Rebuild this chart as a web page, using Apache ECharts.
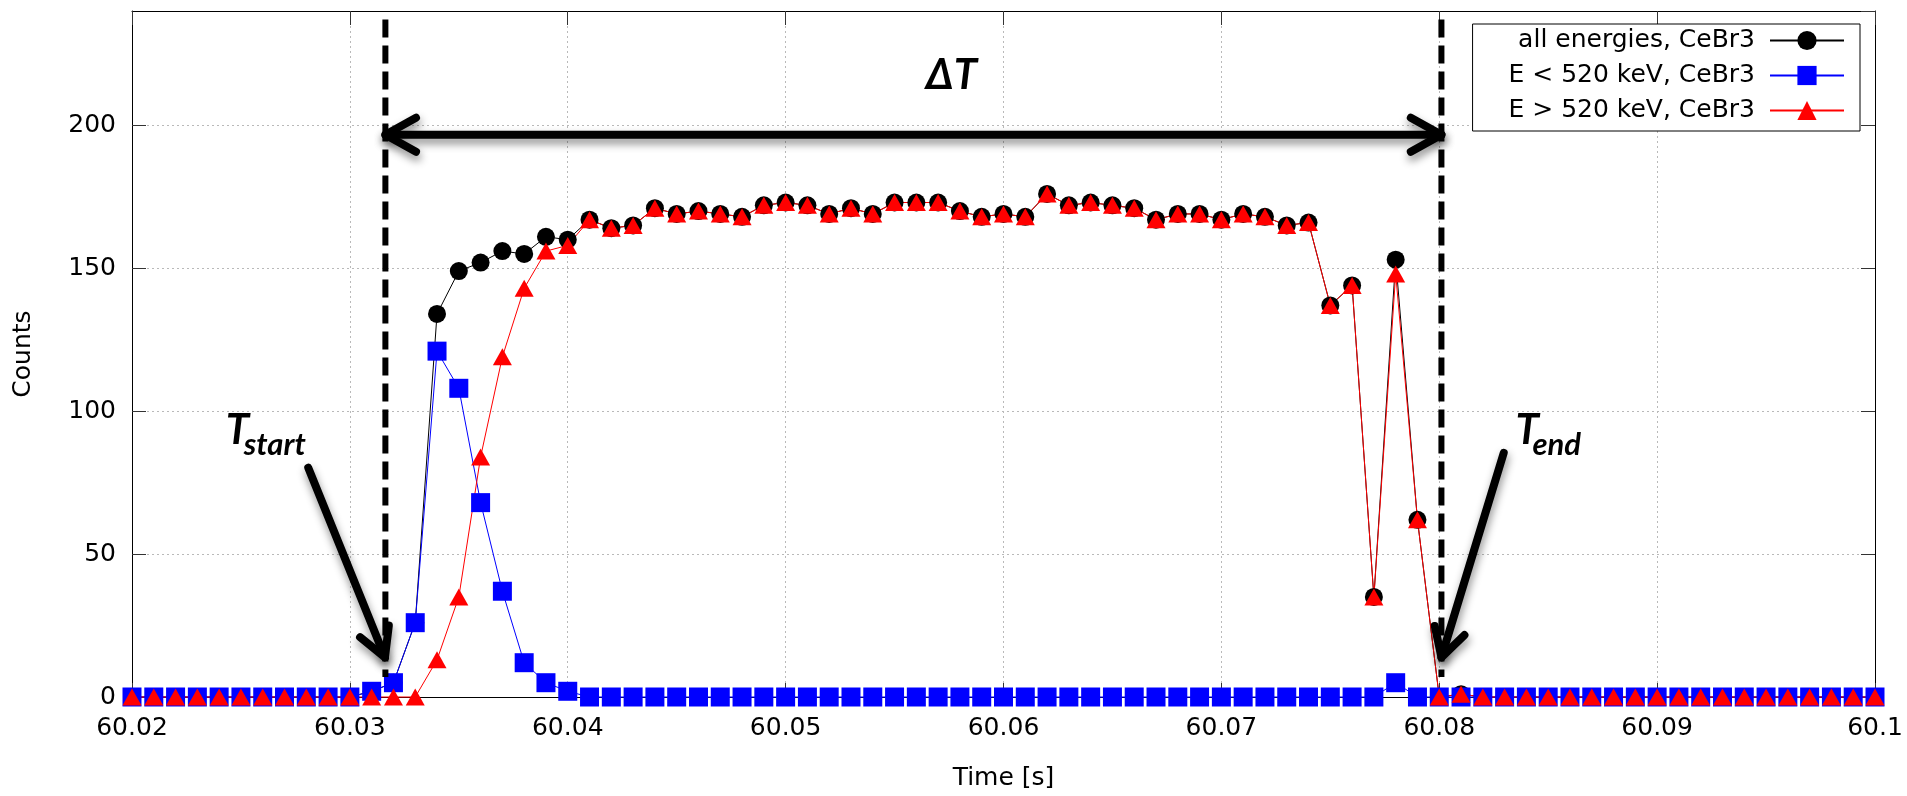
<!DOCTYPE html>
<html>
<head>
<meta charset="utf-8">
<title>CeBr3 counts vs time</title>
<script src="https://cdn.jsdelivr.net/npm/echarts@6/dist/echarts.min.js"></script>
<style>
  html, body { margin: 0; padding: 0; background: #ffffff; }
  #chart { width: 1907px; height: 796px; }
</style>
</head>
<body>
<div id="chart"></div>
<script>
// Time bins [s], 1 ms wide
const times = [
  60.020, 60.021, 60.022, 60.023, 60.024, 60.025, 60.026, 60.027, 60.028, 60.029,
  60.030, 60.031, 60.032, 60.033, 60.034, 60.035, 60.036, 60.037, 60.038, 60.039,
  60.040, 60.041, 60.042, 60.043, 60.044, 60.045, 60.046, 60.047, 60.048, 60.049,
  60.050, 60.051, 60.052, 60.053, 60.054, 60.055, 60.056, 60.057, 60.058, 60.059,
  60.060, 60.061, 60.062, 60.063, 60.064, 60.065, 60.066, 60.067, 60.068, 60.069,
  60.070, 60.071, 60.072, 60.073, 60.074, 60.075, 60.076, 60.077, 60.078, 60.079,
  60.080, 60.081, 60.082, 60.083, 60.084, 60.085, 60.086, 60.087, 60.088, 60.089,
  60.090, 60.091, 60.092, 60.093, 60.094, 60.095, 60.096, 60.097, 60.098, 60.099,
  60.100
];

// Counts per bin, all energies
const countsAll = [
  0, 0, 0, 0, 0, 0, 0, 0, 0, 0,
  0, 2, 5, 26, 134, 149, 152, 156, 155, 161,
  160, 167, 164, 165, 171, 169, 170, 169, 168, 172,
  173, 172, 169, 171, 169, 173, 173, 173, 170, 168,
  169, 168, 176, 172, 173, 172, 171, 167, 169, 169,
  167, 169, 168, 165, 166, 137, 144, 35, 153, 62,
  0, 1, 0, 0, 0, 0, 0, 0, 0, 0,
  0, 0, 0, 0, 0, 0, 0, 0, 0, 0,
  0
];

// Counts per bin, E < 520 keV
const countsLow = [
  0, 0, 0, 0, 0, 0, 0, 0, 0, 0,
  0, 2, 5, 26, 121, 108, 68, 37, 12, 5,
  2, 0, 0, 0, 0, 0, 0, 0, 0, 0,
  0, 0, 0, 0, 0, 0, 0, 0, 0, 0,
  0, 0, 0, 0, 0, 0, 0, 0, 0, 0,
  0, 0, 0, 0, 0, 0, 0, 0, 5, 0,
  0, 0, 0, 0, 0, 0, 0, 0, 0, 0,
  0, 0, 0, 0, 0, 0, 0, 0, 0, 0,
  0
];

// Counts per bin, E > 520 keV
const countsHigh = [
  0, 0, 0, 0, 0, 0, 0, 0, 0, 0,
  0, 0, 0, 0, 13, 35, 84, 119, 143, 156,
  158, 167, 164, 165, 171, 169, 170, 169, 168, 172,
  173, 172, 169, 171, 169, 173, 173, 173, 170, 168,
  169, 168, 176, 172, 173, 172, 171, 167, 169, 169,
  167, 169, 168, 165, 166, 137, 144, 35, 148, 62,
  0, 1, 0, 0, 0, 0, 0, 0, 0, 0,
  0, 0, 0, 0, 0, 0, 0, 0, 0, 0,
  0
];

const seriesNames = ['all energies, CeBr3', 'E < 520 keV, CeBr3', 'E > 520 keV, CeBr3'];

// Axis ranges
const xRange = [60.02, 60.1];
const xStep = 0.01;
const yRange = [0, 240];
const yStep = 50;

// Pulse window annotations (data coordinates)
const tStart = 60.03163;
const tEnd = 60.0801;
const windowSpan = [237, 7];           // vertical extent of the dashed window lines
const deltaArrowY = 196.7;
const deltaLabelAt = [60.05761, 217.5];
const startArrow = { tail: [60.02809, 80.2], tip: [60.03161, 13.9] };
const endArrow = { tail: [60.08296, 85.4], tip: [60.0801, 13.9] };
const startLabelAt = [60.0243, 93.4];
const endLabelAt = [60.0835, 93.4];

const pairs = (ys) => times.map((t, i) => [t, ys[i]]);

const FONT = 'DejaVu Sans';
const FONT_SIZE = 25;
const ANNOT_FONT = 'Lato, "Liberation Sans", sans-serif';
const tickColor = '#333333';
const gridLine = { color: '#b9b9b9', width: 1, type: [2, 3] };

const chart = echarts.init(document.getElementById('chart'), null, { renderer: 'canvas' });

const baseX = {
  type: 'value', min: xRange[0], max: xRange[1], interval: xStep
};
const baseY = {
  type: 'value', min: yRange[0], max: yRange[1], interval: yStep
};

const option = {
  animation: false,
  backgroundColor: '#ffffff',
  textStyle: { fontFamily: FONT },
  grid: { left: 132, right: 32, top: 11, bottom: 96, containLabel: false },
  legend: {
    orient: 'vertical',
    align: 'right',
    right: 47,
    top: 24,
    itemWidth: 74,
    itemHeight: 24,
    itemGap: 10,
    padding: [4, 15, 8, 36],
    backgroundColor: '#ffffff',
    borderColor: '#000000',
    borderWidth: 1,
    borderRadius: 0,
    textStyle: { fontFamily: FONT, fontSize: FONT_SIZE, color: '#000000', padding: [0, 10, 0, 0] },
    data: seriesNames
  },
  xAxis: [
    Object.assign({}, baseX, {
      position: 'bottom',
      name: 'Time [s]',
      nameLocation: 'middle',
      nameGap: 69,
      nameTextStyle: { fontFamily: FONT, fontSize: FONT_SIZE, color: '#000000' },
      axisLine: { onZero: false, lineStyle: { color: '#000000', width: 1 } },
      axisTick: { inside: true, length: 14, lineStyle: { color: tickColor } },
      axisLabel: {
        fontFamily: FONT, fontSize: FONT_SIZE, color: '#000000', margin: 19,
        formatter: (v) => String(Math.round(v * 1000) / 1000)
      },
      splitLine: { show: true, lineStyle: gridLine }
    }),
    Object.assign({}, baseX, {
      position: 'top',
      axisLine: { onZero: false, lineStyle: { color: '#000000', width: 1 } },
      axisTick: { inside: true, length: 14, lineStyle: { color: tickColor } },
      axisLabel: { show: false },
      splitLine: { show: false }
    })
  ],
  yAxis: [
    Object.assign({}, baseY, {
      position: 'left',
      name: 'Counts',
      nameLocation: 'middle',
      nameGap: 96,
      nameTextStyle: { fontFamily: FONT, fontSize: FONT_SIZE, color: '#000000' },
      axisLine: { show: true, onZero: false, lineStyle: { color: '#000000', width: 1 } },
      axisTick: { show: true, inside: true, length: 14, lineStyle: { color: tickColor } },
      axisLabel: { fontFamily: FONT, fontSize: FONT_SIZE, color: '#000000', margin: 16, showMaxLabel: false },
      splitLine: { show: true, lineStyle: gridLine }
    }),
    Object.assign({}, baseY, {
      position: 'right',
      axisLine: { show: true, onZero: false, lineStyle: { color: '#000000', width: 1 } },
      axisTick: { show: true, inside: true, length: 14, lineStyle: { color: tickColor } },
      axisLabel: { show: false },
      splitLine: { show: false }
    })
  ],
  series: [
    {
      name: seriesNames[0], type: 'line', xAxisIndex: 0, yAxisIndex: 0,
      data: pairs(countsAll),
      symbol: 'circle', symbolSize: 18, showSymbol: true, showAllSymbol: true,
      clip: false, silent: true,
      lineStyle: { color: '#000000', width: 1 },
      itemStyle: { color: '#000000' },
      emphasis: { disabled: true }
    },
    {
      name: seriesNames[1], type: 'line', xAxisIndex: 0, yAxisIndex: 0,
      data: pairs(countsLow),
      symbol: 'rect', symbolSize: 19, showSymbol: true, showAllSymbol: true,
      clip: false, silent: true,
      lineStyle: { color: '#0000ff', width: 1 },
      itemStyle: { color: '#0000ff' },
      emphasis: { disabled: true }
    },
    {
      name: seriesNames[2], type: 'line', xAxisIndex: 0, yAxisIndex: 0,
      data: pairs(countsHigh),
      symbol: 'triangle', symbolSize: [19, 17], showSymbol: true, showAllSymbol: true,
      clip: false, silent: true,
      lineStyle: { color: '#ff0000', width: 1 },
      itemStyle: { color: '#ff0000' },
      emphasis: { disabled: true }
    }
  ]
};

chart.setOption(option);

// ----- annotations: window lines, arrows and labels, placed through the grid's scales -----
const toPx = (p) => chart.convertToPixel({ gridIndex: 0 }, p);

const arrowStroke = {
  stroke: '#000000', lineWidth: 8, lineCap: 'round', lineJoin: 'round', fill: null,
  shadowBlur: 8, shadowColor: 'rgba(0,0,0,0.45)', shadowOffsetX: 1, shadowOffsetY: 5
};

// open "V" head at `tip`, pointing away from `from`
function arrowHead(tip, from, len, angleDeg) {
  const dx = from[0] - tip[0], dy = from[1] - tip[1];
  const d = Math.hypot(dx, dy);
  const ux = dx / d, uy = dy / d;
  const a = angleDeg * Math.PI / 180;
  const rot = (s) => [
    tip[0] + len * (ux * Math.cos(s * a) - uy * Math.sin(s * a)),
    tip[1] + len * (ux * Math.sin(s * a) + uy * Math.cos(s * a))
  ];
  return [rot(1), tip, rot(-1)];
}

function slantArrow(spec) {
  const tail = toPx(spec.tail), tip = toPx(spec.tip);
  return [
    { type: 'polyline', z: 100, shape: { points: [tail, tip] }, style: arrowStroke, silent: true },
    { type: 'polyline', z: 100, shape: { points: arrowHead(tip, tail, 32, 29) }, style: arrowStroke, silent: true }
  ];
}

function windowLine(t) {
  const a = toPx([t, windowSpan[0]]), b = toPx([t, windowSpan[1]]);
  return {
    type: 'line', z: 90, silent: true,
    shape: { x1: a[0], y1: a[1], x2: b[0], y2: b[1] },
    style: { stroke: '#000000', lineWidth: 6, lineDash: [18, 8], lineCap: 'butt' }
  };
}

function subscriptLabel(at, main, sub, subDx) {
  const p = toPx(at);
  return [
    {
      type: 'text', z: 110, silent: true, x: p[0], y: p[1],
      style: { text: main, fill: '#000000', font: 'italic bold 42px ' + ANNOT_FONT, align: 'left', verticalAlign: 'middle' }
    },
    {
      type: 'text', z: 110, silent: true, x: p[0] + subDx, y: p[1] + 15,
      style: { text: sub, fill: '#000000', font: 'italic bold 31px ' + ANNOT_FONT, align: 'left', verticalAlign: 'middle' }
    }
  ];
}

function buildAnnotations() {
  const left = toPx([tStart, deltaArrowY]);
  const right = toPx([tEnd, deltaArrowY]);
  const lbl = toPx(deltaLabelAt);
  const els = [
    windowLine(tStart),
    windowLine(tEnd),
    { type: 'polyline', z: 100, silent: true, shape: { points: [left, right] }, style: arrowStroke },
    { type: 'polyline', z: 100, silent: true, shape: { points: arrowHead(left, right, 35, 29) }, style: arrowStroke },
    { type: 'polyline', z: 100, silent: true, shape: { points: arrowHead(right, left, 35, 29) }, style: arrowStroke },
    {
      type: 'text', z: 110, silent: true, x: lbl[0], y: lbl[1],
      style: { text: 'ΔT', fill: '#000000', font: 'italic bold 42px ' + ANNOT_FONT, align: 'center', verticalAlign: 'middle' }
    }
  ]
    .concat(slantArrow(startArrow))
    .concat(slantArrow(endArrow))
    .concat(subscriptLabel(startLabelAt, 'T', 'start', 18))
    .concat(subscriptLabel(endLabelAt, 'T', 'end', 17));
  chart.setOption({ graphic: { elements: els } });
}

buildAnnotations();
</script>
</body>
</html>
